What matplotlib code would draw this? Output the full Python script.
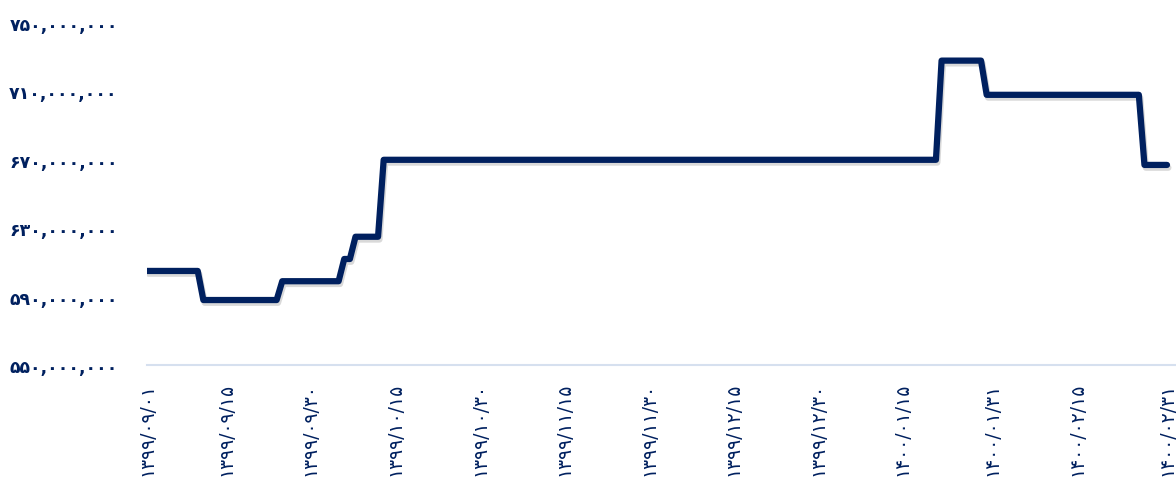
import matplotlib.pyplot as plt
import matplotlib.patheffects as pe

# Data: day index since 1399/09/01 and price (millions) at each change point
days = [0, 9, 10, 23, 24, 34, 35, 36, 37, 41, 42, 140, 141, 148, 149, 176, 177, 181]
values_m = [605, 605, 588, 588, 599, 599, 612, 612, 625, 625, 670, 670, 728, 728, 708, 708, 667, 667]

tick_days = [0, 14, 29, 44, 59, 74, 89, 104, 119, 134, 150, 165, 181]
tick_labels = ['۱۳۹۹/۰۹/۰۱', '۱۳۹۹/۰۹/۱۵', '۱۳۹۹/۰۹/۳۰', '۱۳۹۹/۱۰/۱۵', '۱۳۹۹/۱۰/۳۰',
               '۱۳۹۹/۱۱/۱۵', '۱۳۹۹/۱۱/۳۰', '۱۳۹۹/۱۲/۱۵', '۱۳۹۹/۱۲/۳۰', '۱۴۰۰/۰۱/۱۵',
               '۱۴۰۰/۰۱/۳۱', '۱۴۰۰/۰۲/۱۵', '۱۴۰۰/۰۲/۳۱']
y_ticks = [550, 590, 630, 670, 710, 750]

navy = '#00205f'


def to_persian(s):
    return s.translate(str.maketrans('0123456789', '۰۱۲۳۴۵۶۷۸۹'))


y_labels = [to_persian(f'{v * 1_000_000:,}') for v in y_ticks]

plt.rcParams['font.family'] = ['DejaVu Sans']

fig = plt.figure(figsize=(11.76, 4.81), dpi=100)
ax = fig.add_axes([147 / 1176, 115 / 481, 1029 / 1176, 342 / 481])

ax.plot(days, values_m, color=navy, linewidth=4.5,
        solid_joinstyle='round', solid_capstyle='round',
        path_effects=[pe.SimpleLineShadow(offset=(1, -2), shadow_color='black', alpha=0.15),
                      pe.Normal()])

ax.set_xlim(0, 181 * 1029 / 1020)
ax.set_ylim(550, 750)

ax.set_yticks(y_ticks)
ax.set_yticklabels(y_labels, fontsize=12.5, fontweight='bold', color=navy)
ax.set_xticks(tick_days)
ax.set_xticklabels(tick_labels, rotation=90, fontsize=13.5, color=navy)

ax.tick_params(axis='y', length=0, pad=21)
ax.tick_params(axis='x', length=0, pad=12)

for side in ['top', 'right', 'left']:
    ax.spines[side].set_visible(False)
ax.spines['bottom'].set_color('#d6e0ef')
ax.spines['bottom'].set_linewidth(1.5)

fig.savefig('out.png', dpi=100)
